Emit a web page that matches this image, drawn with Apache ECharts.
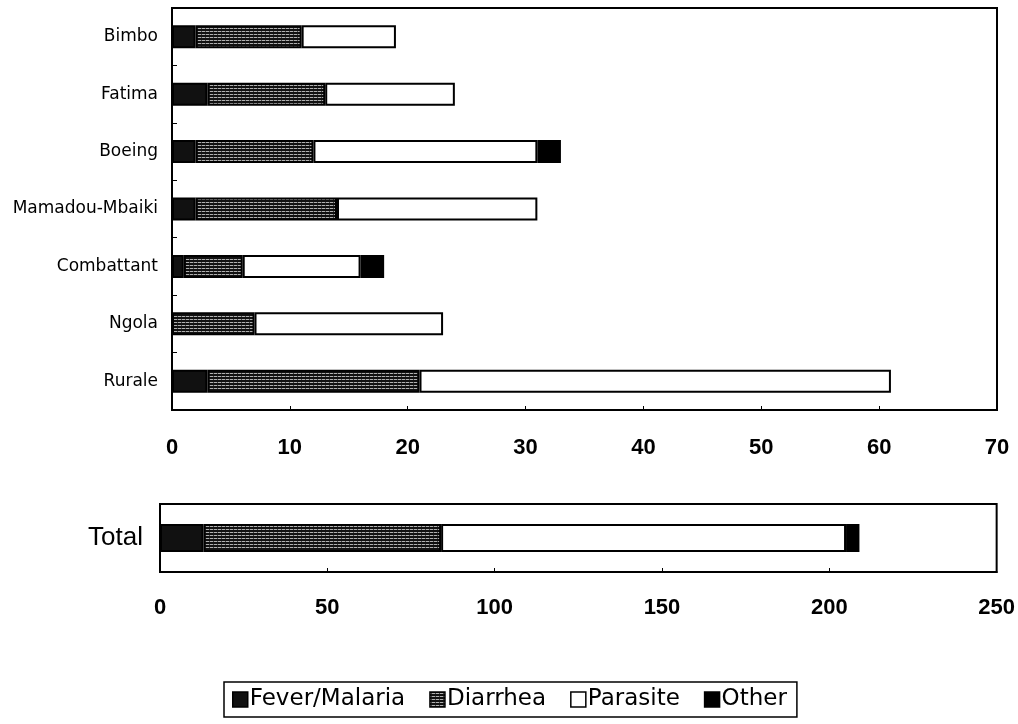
<!DOCTYPE html>
<html>
<head>
<meta charset="utf-8">
<title>Consultations by cause</title>
<script src="https://cdn.jsdelivr.net/npm/echarts@6/dist/echarts.min.js"></script>
<style>
  html, body { margin: 0; padding: 0; background: #fff; }
  #chart { width: 1018px; height: 724px; }
</style>
</head>
<body>
<div id="chart"></div>
<script>
// Health centres, top to bottom
const centres = ['Bimbo', 'Fatima', 'Boeing', 'Mamadou-Mbaiki', 'Combattant', 'Ngola', 'Rurale'];
const causes = ['Fever/Malaria', 'Diarrhea', 'Parasite', 'Other'];

// Cases per centre for each cause
const fever    = [2, 3, 2, 2, 1, 0, 3];
const diarrhea = [9, 10, 10, 12, 5, 7, 18];
const parasite = [8, 11, 19, 17, 10, 16, 40];
const other    = [0, 0, 2, 0, 2, 0, 0];

// All centres together
const totalLabel = ['Total'];
const totalFever = [13];
const totalDiarrhea = [71];
const totalParasite = [121];
const totalOther = [4];

const topTicks = [0, 10, 20, 30, 40, 50, 60, 70];
const bottomTicks = [0, 50, 100, 150, 200, 250];

// Hatched fill for the diarrhea segments
function hatch() {
  const c = document.createElement('canvas');
  c.width = 4; c.height = 3;
  const g = c.getContext('2d');
  g.fillStyle = '#b0b0b0'; g.fillRect(0, 0, 4, 3);
  g.fillStyle = '#111'; g.fillRect(0, 0, 4, 1); g.fillRect(0, 2, 4, 1);
  g.fillStyle = '#444'; g.fillRect(1, 1, 1, 1);
  return { image: c, repeat: 'repeat' };
}
const fills = ['#111', hatch(), '#ffffff', '#000'];

const chart = echarts.init(document.getElementById('chart'), null, { renderer: 'canvas' });

const noZero = arr => arr.map(v => (v === 0 ? '-' : v));

function seriesFor(lists, axisIndex, width) {
  return lists.map((vals, i) => ({
    name: causes[i],
    type: 'bar',
    stack: 'g' + axisIndex,
    xAxisIndex: axisIndex,
    yAxisIndex: axisIndex,
    barWidth: width,
    data: noZero(vals),
    itemStyle: { color: fills[i], borderColor: '#000', borderWidth: 2 },
    emphasis: { disabled: true }
  }));
}

const tickFont = { fontFamily: 'Liberation Sans', color: '#000' };

chart.setOption({
  animation: false,
  backgroundColor: '#fff',
  grid: [
    { left: 172, top: 8, width: 825, height: 402, show: true, borderColor: '#000', borderWidth: 2, backgroundColor: 'transparent' },
    { left: 160, top: 504, width: 838, height: 68, show: true, borderColor: '#000', borderWidth: 2, backgroundColor: 'transparent' }
  ],
  xAxis: [
    {
      gridIndex: 0, type: 'value', min: 0, max: 70, interval: 10,
      splitLine: { show: false },
      axisLine: { show: true, lineStyle: { color: '#000', width: 2 } },
      axisTick: { show: true, inside: true, length: 4, lineStyle: { color: '#000' } },
      axisLabel: Object.assign({ fontSize: 22, fontWeight: 'bold', margin: 27,
        formatter: v => (topTicks.includes(v) ? String(v) : '') }, tickFont)
    },
    {
      gridIndex: 1, type: 'value', min: 0, max: 250, interval: 50,
      splitLine: { show: false },
      axisLine: { show: true, lineStyle: { color: '#000', width: 2 } },
      axisTick: { show: true, inside: true, length: 4, lineStyle: { color: '#000' } },
      axisLabel: Object.assign({ fontSize: 22, fontWeight: 'bold', margin: 25,
        formatter: v => (bottomTicks.includes(v) ? String(v) : '') }, tickFont)
    }
  ],
  yAxis: [
    {
      gridIndex: 0, type: 'category', data: centres, inverse: true,
      axisLine: { show: true, lineStyle: { color: '#000', width: 2 } },
      axisTick: { show: true, inside: true, length: 5, lineStyle: { color: '#000' } },
      axisLabel: { fontSize: 17, fontFamily: 'DejaVu Sans', color: '#000', margin: 14 }
    },
    {
      gridIndex: 1, type: 'category', data: totalLabel, inverse: true,
      axisLine: { show: true, lineStyle: { color: '#000', width: 2 } },
      axisTick: { show: false },
      axisLabel: { fontSize: 26, fontFamily: 'Liberation Sans', color: '#000', margin: 17 }
    }
  ],
  legend: {
    data: causes,
    left: 224, top: 682,
    orient: 'horizontal',
    itemWidth: 15, itemHeight: 15, itemGap: 24,
    padding: [6, 10, 6, 8],
    borderColor: '#000', borderWidth: 1.5,
    icon: 'rect',
    itemStyle: { borderColor: '#000', borderWidth: 1.5 },
    textStyle: { fontSize: 23, fontFamily: 'DejaVu Sans', color: '#000', padding: [0, 0, 0, -3] }
  },
  series: [
    ...seriesFor([fever, diarrhea, parasite, other], 0, 23),
    ...seriesFor([totalFever, totalDiarrhea, totalParasite, totalOther], 1, 28)
  ]
});
</script>
</body>
</html>
